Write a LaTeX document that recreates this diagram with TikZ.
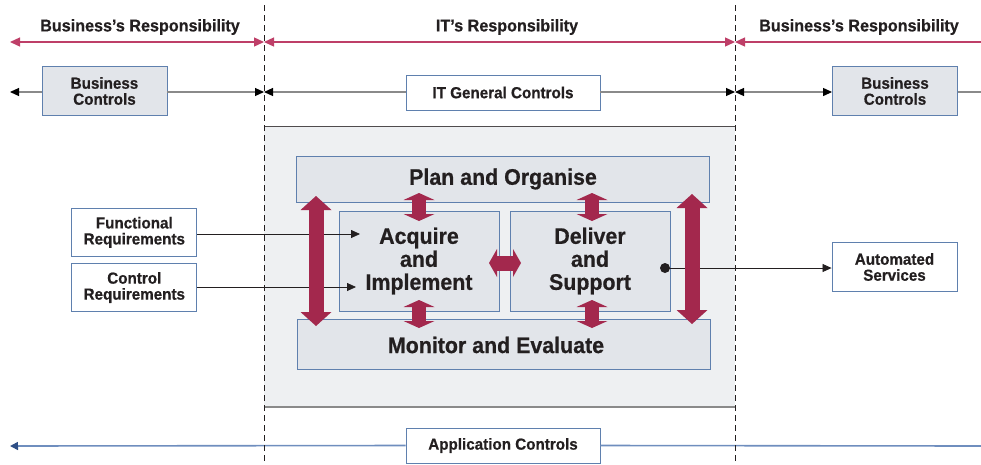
\documentclass[tikz,border=0pt]{standalone}
\usepackage{fontspec}
\setmainfont{Liberation Sans}[FakeStretch=0.95, BoldFeatures={FakeBold=0.6}]
\usetikzlibrary{arrows.meta}
\definecolor{crim}{HTML}{A3284D}
\definecolor{crimline}{HTML}{BE3F68}
\definecolor{bordblue}{HTML}{5F80AE}
\definecolor{boxgray}{HTML}{E2E5EA}
\definecolor{outergray}{HTML}{EEF0F2}
\definecolor{txt}{HTML}{231F20}
\definecolor{appblue}{HTML}{6F8EBE}
\definecolor{appdark}{HTML}{2E4F86}
\definecolor{lgray}{HTML}{8A8A8A}
\tikzset{
  lbl/.style={font=\bfseries\fontsize{16}{16}\selectfont, text=txt, align=center},
  hdr/.style={font=\bfseries\fontsize{17}{17}\selectfont, text=txt, inner sep=0},
  big/.style={font=\bfseries\fontsize{22.5}{23}\selectfont, text=txt, align=center, inner sep=0},
  sz/.style 2 args={minimum width=#1pt, minimum height=#2pt},
  wbox/.style={draw=bordblue, fill=white, line width=0.9pt, inner sep=0, lbl},
  gbox/.style={draw=bordblue, fill=boxgray, line width=0.9pt, inner sep=0, lbl},
  tipB/.style={-{Triangle[length=9pt,width=8pt]}},
  tipBB/.style={{Triangle[length=9pt,width=8pt]}-{Triangle[length=9pt,width=8pt]}},
  redln/.style={draw=crimline, line width=1.3pt, {Triangle[length=10pt,width=9pt]}-{Triangle[length=10pt,width=9pt]}},
  redlnL/.style={draw=crimline, line width=1.3pt, {Triangle[length=10pt,width=9pt]}-},
  gline/.style={draw=lgray, line width=1.2pt, arrows={[color=black]}},
  blkline/.style={draw=txt, line width=0.8pt},
  appln/.style={draw=appblue, line width=1.6pt},
  dashln/.style={draw=txt, line width=0.7pt, dash pattern=on 6pt off 4pt},
  bigarr/.style={draw=crim, line width=15pt, {Triangle[length=14pt,width=31pt,line width=0pt]}-{Triangle[length=14pt,width=31pt,line width=0pt]}},
  smarr/.style={draw=crim, line width=14pt, {Triangle[length=7pt,width=31pt,line width=0pt]}-{Triangle[length=7pt,width=31pt,line width=0pt]}},
  harr/.style={draw=crim, line width=15pt, {Triangle[length=8pt,width=28pt,line width=0pt]}-{Triangle[length=8pt,width=28pt,line width=0pt]}},
}
\begin{document}
\begin{tikzpicture}[x=1pt,y=-1pt]
\useasboundingbox (0,0) rectangle (981,464);
% outer IT area
\node[fill=outergray, inner sep=0, sz={471}{280}] (outer) at (499.5,267) {};
\draw[draw=txt!80, line width=0.8pt] (outer.north west) -- (outer.north east);
\draw[draw=lgray, line width=1.5pt] (outer.south west) -- (outer.south east);

% header texts
\node[hdr] (h1) at (140,27) {Business’s Responsibility};
\node[hdr] (h2) at (507,27) {IT’s Responsibility};
\node[hdr] (h3) at (859,27) {Business’s Responsibility};

% coordinates
\coordinate (r1l) at (10,42);
\coordinate (r1a) at (264,42);
\coordinate (r1b) at (735,42);
\coordinate (r1r) at (981,42);
\coordinate (r2l) at (10,92);
\coordinate (r2a) at (264,92);
\coordinate (r2b) at (735,92);
\coordinate (r2r) at (981,92);
\coordinate (dat) at (264,5);
\coordinate (dab) at (264,464);
\coordinate (dbt) at (735,5);
\coordinate (dbb) at (735,464);
\coordinate (apl) at (10,446);
\coordinate (apr) at (981,446);

% responsibility line
\draw[redln] (r1l) -- (r1a);
\draw[redln] (r1a) -- (r1b);
\draw[redlnL] (r1b) -- (r1r);

% control boxes row
\node[gbox, sz={125}{49}] (bc1) at (104.5,91) {Business\\Controls};
\node[wbox, sz={194}{35}] (itgc) at (503,92.5) {IT General Controls};
\node[gbox, sz={125}{49}] (bc2) at (895,91) {Business\\Controls};
\draw[gline, tipB] (bc1.west |- r2l) -- (r2l);
\draw[gline, tipB] (bc1.east |- r2a) -- (r2a);
\draw[gline, tipB] (itgc.west |- r2a) -- (r2a);
\draw[gline, tipB] (itgc.east |- r2b) -- (r2b);
\draw[gline, tipBB] (r2b) -- (bc2.west |- r2b);
\draw[gline] (bc2.east |- r2r) -- (r2r);

% inner boxes
\node[gbox, sz={413}{46}] (plan) at (503,179) {};
\node[big] (plantx) at (503,179) {Plan and Organise};
\node[gbox, sz={160}{100}, big] (acq) at (419,261) {Acquire\\and\\Implement};
\node[gbox, sz={160}{100}, big] (del) at (590,261) {Deliver\\and\\Support};
\node[gbox, sz={413}{50}] (mon) at (504,344.5) {};
\node[big] (montx) at (496,345) {Monitor and Evaluate};

% requirement boxes
\node[wbox, sz={125}{48}] (fr) at (134.3,232.3) {Functional\\Requirements};
\node[wbox, sz={125}{48}] (cr) at (134.3,287.5) {Control\\Requirements};
\node[wbox, sz={125}{49}] (as) at (894.5,267) {Automated\\Services};
\coordinate (fa) at (360,234);
\coordinate (ca) at (356,287);
\draw[blkline, tipB] (fr.east |- fa) -- (fa);
\draw[blkline, tipB] (cr.east |- ca) -- (ca);
\node[circle, fill=txt, inner sep=0, minimum size=10pt] (dot) at (665,268) {};
\draw[blkline, tipB] (dot.center) -- (as.west |- dot);

% red arrows
\coordinate (la1) at (316,196); \coordinate (la2) at (316,326);
\coordinate (ra1) at (692,194); \coordinate (ra2) at (692,324);
\coordinate (s1a) at (419,193); \coordinate (s1b) at (419,221);
\coordinate (s2a) at (592,193); \coordinate (s2b) at (592,221);
\coordinate (s3a) at (419,300); \coordinate (s3b) at (419,328);
\coordinate (s4a) at (592,300); \coordinate (s4b) at (592,328);
\coordinate (ha) at (489,263); \coordinate (hb) at (521,263);
\draw[bigarr] (la1) -- (la2);
\draw[bigarr] (ra1) -- (ra2);
\draw[smarr] (s1a) -- (s1b);
\draw[smarr] (s2a) -- (s2b);
\draw[smarr] (s3a) -- (s3b);
\draw[smarr] (s4a) -- (s4b);
\draw[harr] (ha) -- (hb);

% application controls
\node[wbox, sz={194}{35}] (ac) at (503,445.5) {Application Controls};
\draw[appln, -{Triangle[length=8pt,width=8pt,color=appdark]}] (ac.west) -- (apl);
\draw[appln] (ac.east) -- (apr);

% dashed separators
\draw[dashln] (dat) -- (dab);
\draw[dashln] (dbt) -- (dbb);
\end{tikzpicture}
\end{document}
